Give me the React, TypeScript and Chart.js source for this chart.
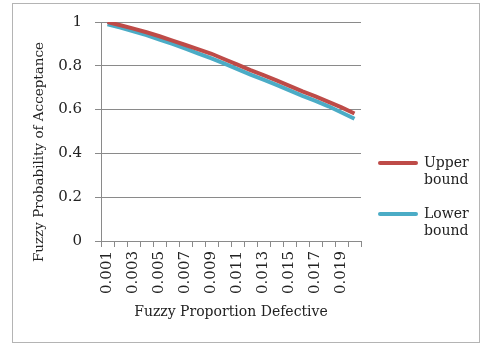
import React, { useEffect, useRef } from "react";
import { Chart, registerables } from "chart.js";

Chart.register(...registerables);

const categories = [
  "0.001", "0.002", "0.003", "0.004", "0.005", "0.006", "0.007", "0.008", "0.009", "0.010",
  "0.011", "0.012", "0.013", "0.014", "0.015", "0.016", "0.017", "0.018", "0.019", "0.020",
];
const upperBound = [
  1.0, 0.985, 0.97, 0.953, 0.935, 0.915, 0.895, 0.875, 0.855, 0.83,
  0.805, 0.78, 0.757, 0.733, 0.708, 0.683, 0.66, 0.635, 0.61, 0.582,
];
const lowerBound = [
  0.99, 0.975, 0.957, 0.94, 0.92, 0.9, 0.878, 0.856, 0.834, 0.81,
  0.785, 0.76, 0.737, 0.713, 0.688, 0.663, 0.64, 0.615, 0.587, 0.558,
];
const seriesNames = ["Upper bound", "Lower bound"];
const seriesColors = ["#BE4B48", "#4BACC6"];
const xTitle = "Fuzzy Proportion Defective";
const yTitle = "Fuzzy Probability of Acceptance";

const FONT = "'DejaVu Serif', serif";
const GRID = "#8a8a8a";

export default function App() {
  const ref = useRef<HTMLCanvasElement | null>(null);
  useEffect(() => {
    document.body.style.margin = "0";
    const chart = new Chart(ref.current!, {
      type: "line",
      data: {
        labels: categories,
        datasets: [
          {
            label: seriesNames[0],
            data: upperBound,
            borderColor: seriesColors[0],
            backgroundColor: seriesColors[0],
            borderWidth: 4,
            pointRadius: 0,
            tension: 0,
          },
          {
            label: seriesNames[1],
            data: lowerBound,
            borderColor: seriesColors[1],
            backgroundColor: seriesColors[1],
            borderWidth: 4,
            pointRadius: 0,
            tension: 0,
          },
        ],
      },
      options: {
        animation: false,
        responsive: false,
        maintainAspectRatio: false,
        layout: { padding: { left: 25, right: 119, top: 21, bottom: 15 } },
        plugins: { legend: { display: false }, tooltip: { enabled: false } },
        scales: {
          x: {
            offset: true,
            afterFit: (s: any) => {
              s.height = 88;
            },
            grid: {
              offset: true,
              drawOnChartArea: false,
              drawTicks: true,
              tickLength: 6,
              color: GRID,
            },
            border: { color: GRID },
            ticks: {
              autoSkip: false,
              maxRotation: 90,
              minRotation: 90,
              padding: 4,
              color: "#222",
              font: { family: FONT, size: 15 },
              callback: (_v: any, i: number) => (i % 2 === 0 ? categories[i] : ""),
            },
            title: {
              display: true,
              text: xTitle,
              color: "#222",
              font: { family: FONT, size: 14 },
              padding: { top: 0, bottom: 8 },
            },
          },
          y: {
            min: 0,
            max: 1,
            afterFit: (s: any) => {
              s.width = 76;
            },
            grid: { color: GRID, tickLength: 6 },
            border: { color: GRID },
            ticks: {
              stepSize: 0.2,
              padding: 13,
              color: "#222",
              font: { family: FONT, size: 15 },
              callback: (v: any) => String(Number(Number(v).toFixed(1))),
            },
          },
        },
      },
    });
    return () => chart.destroy();
  }, []);

  const legendItem = (i: number, top: number) => {
    const [w1, w2] = seriesNames[i].split(" ");
    return (
      <div
        key={i}
        style={{ position: "absolute", left: 378, top, display: "flex", alignItems: "flex-start" }}
      >
        <div
          style={{
            width: 40,
            height: 4,
            marginTop: 7,
            borderRadius: 2,
            background: seriesColors[i],
          }}
        />
        <div
          style={{
            marginLeft: 6,
            fontFamily: FONT,
            fontSize: 14,
            lineHeight: "17px",
            color: "#222",
          }}
        >
          <div>{w1}</div>
          <div>{w2}</div>
        </div>
      </div>
    );
  };

  return (
    <div style={{ position: "relative", width: 480, height: 344, background: "#fff" }}>
      <canvas ref={ref} width={480} height={344} style={{ position: "absolute", left: 0, top: 0 }} />
      <div
        style={{
          position: "absolute",
          left: 38,
          top: 152,
          width: 0,
          height: 0,
        }}
      >
        <div
          style={{
            position: "absolute",
            left: 0,
            top: 0,
            transform: "translate(-50%, -50%) rotate(-90deg)",
            whiteSpace: "nowrap",
            fontFamily: FONT,
            fontSize: 13.5,
            lineHeight: "16px",
            color: "#222",
          }}
        >
          {yTitle}
        </div>
      </div>
      <div
        style={{
          position: "absolute",
          left: 12,
          top: 3,
          width: 466,
          height: 338,
          border: "1px solid #b4b4b4",
          pointerEvents: "none",
        }}
      />
      {legendItem(0, 154)}
      {legendItem(1, 205)}
    </div>
  );
}
